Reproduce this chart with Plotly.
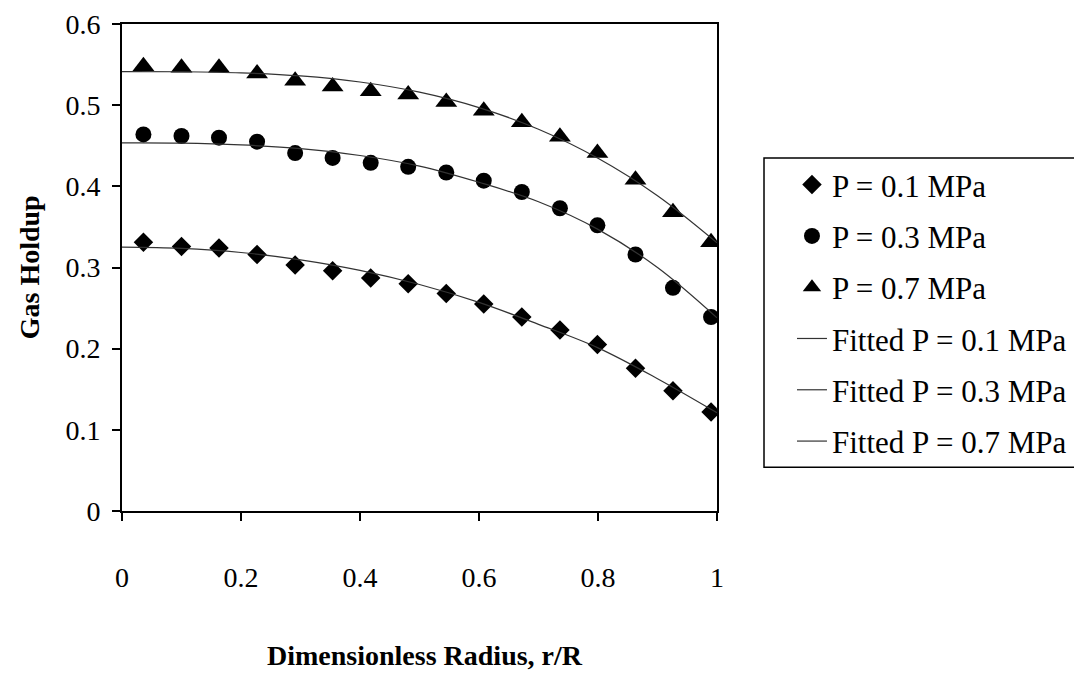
import plotly.graph_objects as go

# Data
r_over_R = [0.036, 0.100, 0.163, 0.227, 0.291, 0.354, 0.418, 0.481,
            0.545, 0.608, 0.672, 0.736, 0.799, 0.863, 0.926, 0.990]
holdup_p01 = [0.331, 0.326, 0.324, 0.316, 0.303, 0.296, 0.287, 0.280,
              0.268, 0.255, 0.239, 0.223, 0.205, 0.176, 0.148, 0.122]
holdup_p03 = [0.464, 0.462, 0.460, 0.455, 0.441, 0.435, 0.429, 0.424,
              0.417, 0.407, 0.393, 0.373, 0.352, 0.316, 0.275, 0.239]
holdup_p07 = [0.548, 0.546, 0.546, 0.539, 0.530, 0.523, 0.517, 0.513,
              0.504, 0.493, 0.479, 0.461, 0.441, 0.408, 0.368, 0.331]

fit_x = [0.0, 0.1, 0.2, 0.3, 0.4, 0.5, 0.6, 0.7, 0.8, 0.9, 1.0]
fit_p01 = [0.325, 0.3235, 0.3185, 0.3095, 0.2965, 0.279, 0.257, 0.230, 0.201, 0.163, 0.121]
fit_p03 = [0.4535, 0.4532, 0.451, 0.4465, 0.438, 0.425, 0.405, 0.381, 0.347, 0.300, 0.238]
fit_p07 = [0.5414, 0.5412, 0.5398, 0.536, 0.5285, 0.516, 0.497, 0.4704, 0.4346, 0.3884, 0.3304]

series_names = ["P = 0.1 MPa", "P = 0.3 MPa", "P = 0.7 MPa"]
fit_names = ["Fitted P = 0.1 MPa", "Fitted P = 0.3 MPa", "Fitted P = 0.7 MPa"]
x_ticks = [0, 0.2, 0.4, 0.6, 0.8, 1]
y_ticks = [0, 0.1, 0.2, 0.3, 0.4, 0.5, 0.6]

FONT = "Liberation Serif, Times New Roman, serif"

fig = go.Figure()
symbols = ["diamond", "circle", "triangle-up"]
sizes = [15, 16, 19]
for i, (name, ys) in enumerate(zip(series_names, [holdup_p01, holdup_p03, holdup_p07])):
    fig.add_trace(go.Scatter(
        x=r_over_R, y=ys, mode="markers", name=name,
        legendgroup=f"g{i}",
        marker=dict(symbol=symbols[i], size=sizes[i], color="black",
                    line=dict(width=0))))
for i, (name, ys) in enumerate(zip(fit_names, [fit_p01, fit_p03, fit_p07])):
    fig.add_trace(go.Scatter(
        x=fit_x, y=ys, mode="lines", name=name,
        legendgroup=f"f{i}",
        line=dict(color="#333333", width=1.2, shape="spline", smoothing=1.0)))

fig.update_layout(
    width=1082, height=677,
    margin=dict(l=114, r=373, t=16, b=174, autoexpand=False),
    paper_bgcolor="white", plot_bgcolor="white",
    font=dict(family=FONT, size=28, color="black"),
    showlegend=True,
    legend=dict(
        x=1.126, xanchor="left", y=0.725, yanchor="top",
        borderwidth=0, bgcolor="rgba(0,0,0,0)",
        font=dict(family=FONT, size=31, color="black"),
        traceorder="grouped", tracegroupgap=8,
    ),
    shapes=[
        dict(type="rect", xref="paper", yref="paper",
             x0=1.079, x1=1.612, y0=0.09, y1=0.725,
             line=dict(color="black", width=1.5), fillcolor="rgba(0,0,0,0)", layer="below"),
    ],
    xaxis=dict(
        range=[0, 1], tickvals=x_ticks, ticktext=["0", "0.2", "0.4", "0.6", "0.8", "1"],
        showline=True, linecolor="black", linewidth=2, mirror=True,
        ticks="outside", ticklen=8, tickcolor="black", tickwidth=1.5,
        ticklabelstandoff=32, ticklabeloverflow="allow", automargin=False,
        showgrid=False, zeroline=False,
        tickfont=dict(family=FONT, size=28),
    ),
    yaxis=dict(
        range=[0, 0.6], tickvals=y_ticks, ticktext=["0", "0.1", "0.2", "0.3", "0.4", "0.5", "0.6"],
        showline=True, linecolor="black", linewidth=2, mirror=True,
        ticks="outside", ticklen=8, tickcolor="black", tickwidth=1.5,
        ticklabelstandoff=6, ticklabeloverflow="allow", automargin=False,
        showgrid=False, zeroline=False,
        tickfont=dict(family=FONT, size=28),
    ),
    annotations=[
        dict(text="<b>Dimensionless Radius, r/R</b>", xref="paper", yref="paper",
             x=0.51, y=-0.296, xanchor="center", yanchor="middle", showarrow=False,
             font=dict(family=FONT, size=28)),
        dict(text="<b>Gas Holdup</b>", xref="paper", yref="paper",
             x=-0.155, y=0.5, xanchor="center", yanchor="middle", showarrow=False,
             textangle=-90, font=dict(family=FONT, size=28)),
    ],
)

fig.write_html("out.html")
